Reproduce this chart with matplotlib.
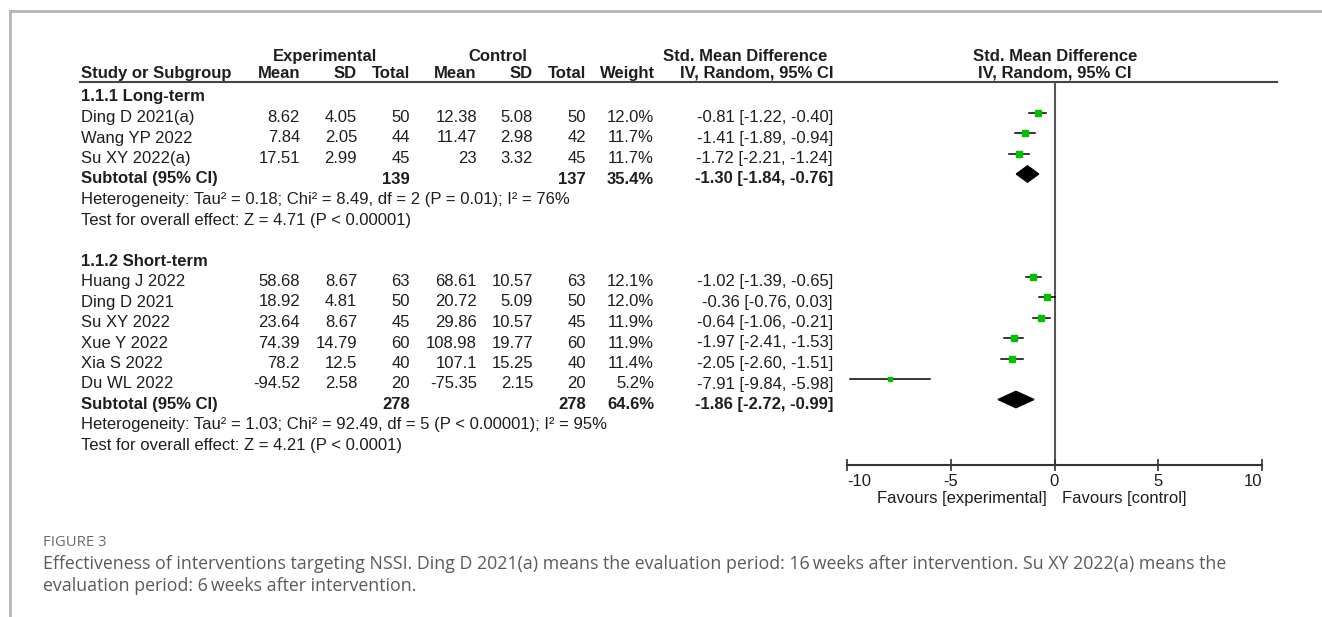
import matplotlib
matplotlib.use("Agg")
import matplotlib.pyplot as plt
import numpy as np

# ---- data ----
groups = ["1.1.1 Long-term", "1.1.2 Short-term"]

studies = [
    ["Ding D 2021(a)", "Wang YP 2022", "Su XY 2022(a)"],
    ["Huang J 2022", "Ding D 2021", "Su XY 2022", "Xue Y 2022", "Xia S 2022", "Du WL 2022"],
]
exp_mean = [[8.62, 7.84, 17.51], [58.68, 18.92, 23.64, 74.39, 78.2, -94.52]]
exp_sd = [[4.05, 2.05, 2.99], [8.67, 4.81, 8.67, 14.79, 12.5, 2.58]]
exp_n = [[50, 44, 45], [63, 50, 45, 60, 40, 20]]
ctl_mean = [[12.38, 11.47, 23], [68.61, 20.72, 29.86, 108.98, 107.1, -75.35]]
ctl_sd = [[5.08, 2.98, 3.32], [10.57, 5.09, 10.57, 19.77, 15.25, 2.15]]
ctl_n = [[50, 42, 45], [63, 50, 45, 60, 40, 20]]
weight = [[12.0, 11.7, 11.7], [12.1, 12.0, 11.9, 11.9, 11.4, 5.2]]
smd = [[-0.81, -1.41, -1.72], [-1.02, -0.36, -0.64, -1.97, -2.05, -7.91]]
ci_lo = [[-1.22, -1.89, -2.21], [-1.39, -0.76, -1.06, -2.41, -2.60, -9.84]]
ci_hi = [[-0.40, -0.94, -1.24], [-0.65, 0.03, -0.21, -1.53, -1.51, -5.98]]

sub_exp_n = [139, 278]
sub_ctl_n = [137, 278]
sub_weight = [35.4, 64.6]
sub_smd = [-1.30, -1.86]
sub_lo = [-1.84, -2.72]
sub_hi = [-0.76, -0.99]
heterogeneity = [
    "Heterogeneity: Tau\u00b2 = 0.18; Chi\u00b2 = 8.49, df = 2 (P = 0.01); I\u00b2 = 76%",
    "Heterogeneity: Tau\u00b2 = 1.03; Chi\u00b2 = 92.49, df = 5 (P < 0.00001); I\u00b2 = 95%",
]
overall = [
    "Test for overall effect: Z = 4.71 (P < 0.00001)",
    "Test for overall effect: Z = 4.21 (P < 0.0001)",
]
xticks = [-10, -5, 0, 5, 10]

caption_title = "FIGURE 3"
caption_lines = [
    "Effectiveness of interventions targeting NSSI. Ding D 2021(a) means the evaluation period: 16\u2009weeks after intervention. Su XY 2022(a) means the",
    "evaluation period: 6\u2009weeks after intervention.",
]

# ---- layout ----
W, H = 1322, 617
FS = 12
TXT = "#1e1e1e"
plt.rcParams["font.family"] = ["Liberation Sans", "DejaVu Sans"]

fig = plt.figure(figsize=(W / 100, H / 100), dpi=100)
fig.patch.set_facecolor("white")

# overlay axes in pixel units for the table text
ov = fig.add_axes([0, 0, 1, 1])
ov.set_xlim(0, W)
ov.set_ylim(H, 0)
ov.axis("off")

ROW0, DY = 95.5, 20.5


def base(i):
    return ROW0 + DY * i + 6


def put(x, i, s, ha="left", bold=False):
    ov.text(x, base(i), s, ha=ha, va="baseline", fontsize=FS, color=TXT,
            fontweight="bold" if bold else "normal")


# frame around the figure box
ov.plot([10, W], [11, 11], color="#b5b5b5", lw=2)
ov.plot([10, 10], [11, H], color="#b5b5b5", lw=2)

# headers
hb1, hb2 = 61, 78
for x, s, ha in [(325, "Experimental", "center"), (498, "Control", "center"),
                 (745, "Std. Mean Difference", "center"), (1055, "Std. Mean Difference", "center")]:
    ov.text(x, hb1, s, ha=ha, va="baseline", fontsize=FS, fontweight="bold", color=TXT)
for x, s, ha in [(81, "Study or Subgroup", "left"), (300, "Mean", "right"), (357, "SD", "right"),
                 (410, "Total", "right"), (476, "Mean", "right"), (533, "SD", "right"),
                 (586, "Total", "right"), (655, "Weight", "right"), (833, "IV, Random, 95% CI", "right"),
                 (1055, "IV, Random, 95% CI", "center")]:
    ov.text(x, hb2, s, ha=ha, va="baseline", fontsize=FS, fontweight="bold", color=TXT)
ov.plot([80, 1277], [82, 82], color="#444444", lw=1.5)

# forest axes: x in SMD units, y in row units
PROW0 = 92.0
ax_top, ax_bot = 82, 465
ax = fig.add_axes([847 / W, 1 - ax_bot / H, 415 / W, (ax_bot - ax_top) / H])
ax.set_xlim(-10, 10)
ax.set_ylim((ax_bot - PROW0) / DY, (ax_top - PROW0) / DY)
ax.patch.set_alpha(0)
for sp in ["top", "left", "right"]:
    ax.spines[sp].set_visible(False)
ax.spines["bottom"].set_color("#333333")
ax.spines["bottom"].set_linewidth(1.5)
ax.set_yticks([])
ax.set_xticks(xticks)
ax.set_xticklabels([str(t) for t in xticks], fontsize=FS, color=TXT)
ax.tick_params(axis="x", direction="inout", length=9, width=1.2, color="#333333", pad=2)
tl = ax.get_xticklabels()
tl[0].set_ha("left")
tl[-1].set_ha("right")
ax.axvline(0, color="#555555", lw=1.5, zorder=1)

row = 0
for g in range(len(groups)):
    put(81, row, groups[g], bold=True)
    row += 1
    for k, name in enumerate(studies[g]):
        put(81, row, name)
        put(300, row, f"{exp_mean[g][k]:g}", "right")
        put(357, row, f"{exp_sd[g][k]:g}", "right")
        put(410, row, f"{exp_n[g][k]}", "right")
        put(477, row, f"{ctl_mean[g][k]:g}", "right")
        put(533, row, f"{ctl_sd[g][k]:g}", "right")
        put(586, row, f"{ctl_n[g][k]}", "right")
        put(654, row, f"{weight[g][k]:.1f}%", "right")
        put(833, row, f"{smd[g][k]:.2f} [{ci_lo[g][k]:.2f}, {ci_hi[g][k]:.2f}]", "right")
        ax.plot([ci_lo[g][k], ci_hi[g][k]], [row, row], color="black", lw=1.1, zorder=2)
        side = 6.0 * np.sqrt(weight[g][k] / 12.1) * 0.72
        ax.plot(smd[g][k], row, marker="s", ms=side, color="#00c000", mec="#00c000", zorder=3)
        row += 1
    put(81, row, "Subtotal (95% CI)", bold=True)
    put(410, row, f"{sub_exp_n[g]}", "right", bold=True)
    put(586, row, f"{sub_ctl_n[g]}", "right", bold=True)
    put(654, row, f"{sub_weight[g]:.1f}%", "right", bold=True)
    put(833, row, f"{sub_smd[g]:.2f} [{sub_lo[g]:.2f}, {sub_hi[g]:.2f}]", "right", bold=True)
    h = 0.4
    ax.fill([sub_lo[g], sub_smd[g], sub_hi[g], sub_smd[g]], [row, row - h, row, row + h],
            color="black", zorder=3)
    row += 1
    put(81, row, heterogeneity[g])
    row += 1
    put(81, row, overall[g])
    row += 2

ov.text(1047, 503, "Favours [experimental]", ha="right", va="baseline", fontsize=FS, color=TXT)
ov.text(1062, 503, "Favours [control]", ha="left", va="baseline", fontsize=FS, color=TXT)

# caption
ov.text(43, 546, caption_title, ha="left", va="baseline", fontsize=10.7, color="#6a6a6a",
        family=["Open Sans", "DejaVu Sans"])
for j, line in enumerate(caption_lines):
    ov.text(43, 569 + 22 * j, line, ha="left", va="baseline", fontsize=12.8, color="#5a5a5a",
            family=["Open Sans", "DejaVu Sans"])

fig.savefig("out.png", dpi=100)
